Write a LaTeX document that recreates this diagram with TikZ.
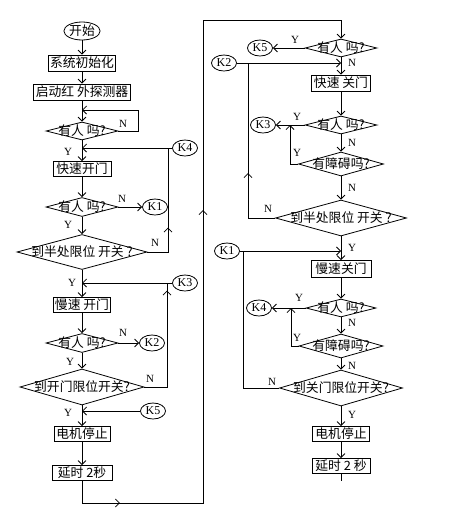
\documentclass[tikz,border=0pt]{standalone}
\usepackage{fontspec}
\setmainfont{Liberation Serif}
\newfontfamily\cjk{Noto Sans CJK SC}
\usetikzlibrary{arrows.meta,shapes.geometric,decorations.markings}
\tikzset{
  fc/line/.style={line width=0.8pt, draw=black},
  fc/arrow/.style={fc/line, -{Straight Barb[length=4pt,width=8pt]}},
  fc/midarrow/.style={
    postaction={decorate, decoration={markings,
      mark=at position #1 with {\arrow{Straight Barb[length=4pt,width=8pt]}}}}
  },
  fc/box/.style={
    draw,
    line width=0.8pt,
    rectangle,
    inner xsep=1pt,
    inner ysep=1pt,
    minimum height=16pt,
    font=\cjk\fontsize{12.8}{14}\selectfont
  },
  fc/term/.style={
    ellipse,
    draw,
    line width=0.8pt,
    inner sep=0pt,
    minimum width=34pt,
    minimum height=18pt,
    font=\cjk\fontsize{12.8}{14}\selectfont
  },
  fc/dectext/.style={font=\cjk\fontsize{12.8}{14}\selectfont, inner sep=0pt},
  fc/dec/.style={
    diamond,
    draw,
    line width=0.8pt,
    inner sep=0pt,
    label={[fc/dectext]center:#1}
  },
  fc/conn/.style={
    ellipse,
    draw,
    line width=0.8pt,
    inner sep=0pt,
    minimum width=25pt,
    minimum height=16pt,
    font=\fontsize{12}{13}\selectfont
  },
  fc/yn/.style={font=\fontsize{11}{12}\selectfont, inner sep=0pt}
}

\begin{document}
\begin{tikzpicture}[x=1pt,y=-1pt]
  \useasboundingbox (0,0) rectangle (454,530);

  % left column: opening the door
  \node[fc/term] (start) at (82,31) {开始};
  \node[fc/box,minimum width=67pt] (init) at (82,63) {系统初始化};
  \node[fc/box,minimum width=97pt] (ir) at (82,92) {启动红 外探测器};
  \node[fc/dec={有人 吗?},minimum width=72pt,minimum height=18pt] (ask1) at (82,131) {};
  \node[fc/box,minimum width=58pt,minimum height=15pt] (fastopen) at (82,169) {快速开门};
  \node[fc/dec={有人 吗?},minimum width=72pt,minimum height=19pt] (ask2) at (82,207) {};
  \node[fc/dec={到半处限位 开关 ?},minimum width=130pt,minimum height=35pt] (half) at (82,252) {};
  \node[fc/box,minimum width=57pt,minimum height=15pt] (slowopen) at (82,305) {慢速 开门};
  \node[fc/dec={有人 吗?},minimum width=72pt,minimum height=19pt] (ask3) at (82,343) {};
  \node[fc/dec={到开门限位开关?},minimum width=124pt,minimum height=36pt] (openlim) at (82,387) {};
  \node[fc/box,minimum width=56pt,minimum height=15pt] (stopl) at (82,434) {电机停止};
  \node[fc/box,minimum width=60pt,minimum height=15pt] (delayl) at (82,473) {延时 2秒};

  \node[fc/conn] (k4l) at (185,148) {K4};
  \node[fc/conn] (k1l) at (155,207) {K1};
  \node[fc/conn] (k3l) at (185,283) {K3};
  \node[fc/conn] (k2l) at (152,343) {K2};
  \node[fc/conn] (k5l) at (153,411) {K5};

  % right column: closing the door
  \node[fc/dec={有人 吗?},minimum width=72pt,minimum height=18pt] (askr1) at (341,48) {};
  \node[fc/box,minimum width=59pt] (fastclose) at (341,83) {快速 关门};
  \node[fc/dec={有人 吗?},minimum width=72pt,minimum height=18pt] (askr2) at (341,125) {};
  \node[fc/dec={有障碍吗?},minimum width=85pt,minimum height=24pt] (obst1) at (341,164) {};
  \node[fc/dec={到半处限位 开关 ?},minimum width=131pt,minimum height=36pt] (halfr) at (341,218) {};
  \node[fc/box,minimum width=60pt,minimum height=17pt] (slowclose) at (341,269) {慢速关门};
  \node[fc/dec={有人 吗?},minimum width=70pt,minimum height=18pt] (askr3) at (341,308) {};
  \node[fc/dec={有障碍吗?},minimum width=84pt,minimum height=24pt] (obst2) at (341,346) {};
  \node[fc/dec={到关门限位开关?},minimum width=123pt,minimum height=36pt] (closelim) at (341,388) {};
  \node[fc/box,minimum width=57pt,minimum height=15pt] (stopr) at (341,434) {电机停止};
  \node[fc/box,minimum width=58pt,minimum height=15pt] (delayr) at (341,466) {延时 2 秒};

  \node[fc/conn] (k5r) at (260,48) {K5};
  \node[fc/conn] (k2r) at (224,63) {K2};
  \node[fc/conn] (k3r) at (263,125) {K3};
  \node[fc/conn] (k1r) at (227,251) {K1};
  \node[fc/conn] (k4r) at (259,308) {K4};

  % Y / N labels
  \node[fc/yn] (nl1) at (123,124) {N};
  \node[fc/yn] (yl1) at (68,152) {Y};
  \node[fc/yn] (nl2) at (122,199) {N};
  \node[fc/yn] (yl2) at (68,225) {Y};
  \node[fc/yn] (nl3) at (155,243) {N};
  \node[fc/yn] (yl3) at (72,283) {Y};
  \node[fc/yn] (nl4) at (123,333) {N};
  \node[fc/yn] (yl4) at (70,362) {Y};
  \node[fc/yn] (nl5) at (150,379) {N};
  \node[fc/yn] (yl5) at (68,413) {Y};
  \node[fc/yn] (yr1) at (295,40) {Y};
  \node[fc/yn] (nr1) at (352,63) {N};
  \node[fc/yn] (yr2) at (297,117) {Y};
  \node[fc/yn] (nr2) at (352,143) {N};
  \node[fc/yn] (yr3) at (297,153) {Y};
  \node[fc/yn] (nr3) at (352,188) {N};
  \node[fc/yn] (nr4) at (268,209) {N};
  \node[fc/yn] (yr4) at (352,248) {Y};
  \node[fc/yn] (yr5) at (299,298) {Y};
  \node[fc/yn] (nr5) at (352,323) {N};
  \node[fc/yn] (yr6) at (297,338) {Y};
  \node[fc/yn] (nr6) at (352,366) {N};
  \node[fc/yn] (nr7) at (272,382) {N};
  \node[fc/yn] (yr7) at (352,415) {Y};

  % bends
  \coordinate (loop1) at (138,110);
  \coordinate (up1) at (168,148);
  \coordinate (up2) at (167,283);
  \coordinate (back1) at (203,503);
  \coordinate (back2) at (203,20);
  \coordinate (jr1) at (290,125);
  \coordinate (jr2) at (248,63);
  \coordinate (jr3) at (291,308);
  \coordinate (jr4) at (243,251);
  \coordinate (tail) at (341,481);

  % left connectors
  \draw[fc/arrow] (start) -- (init);
  \draw[fc/arrow] (init) -- (ir);
  \draw[fc/arrow] (ir) -- (ask1);
  \draw[fc/arrow] (ask1.east) -| (loop1) -- (loop1 -| ir);
  \draw[fc/arrow] (ask1) -- (fastopen);
  \draw[fc/arrow] (k4l) -- (k4l -| ask1);
  \draw[fc/arrow] (fastopen) -- (ask2);
  \draw[fc/arrow] (ask2.east) -- (k1l);
  \draw[fc/arrow] (ask2) -- (half);
  \draw[fc/line,fc/midarrow=45pt] (half.east) -| (up1);
  \draw[fc/arrow] (half) -- (slowopen);
  \draw[fc/arrow] (k3l) -- (k3l -| half);
  \draw[fc/arrow] (slowopen) -- (ask3);
  \draw[fc/arrow] (ask3.east) -- (k2l);
  \draw[fc/arrow] (ask3) -- (openlim);
  \draw[fc/line,fc/midarrow=119pt] (openlim.east) -| (up2);
  \draw[fc/arrow] (openlim) -- (stopl);
  \draw[fc/arrow] (k5l) -- (k5l -| openlim);
  \draw[fc/arrow] (stopl) -- (delayl);
  \draw[fc/arrow,fc/midarrow=60pt,fc/midarrow=436pt] (delayl) |- (back1) -- (back2) -| (askr1);

  % right connectors
  \draw[fc/arrow] (askr1.west) -- (k5r);
  \draw[fc/arrow] (askr1) -- (fastclose);
  \draw[fc/arrow] (k2r) -- (k2r -| askr1);
  \draw[fc/arrow] (fastclose) -- (askr2);
  \draw[fc/arrow] (askr2.west) -- (k3r);
  \draw[fc/arrow] (askr2) -- (obst1);
  \draw[fc/arrow] (obst1.west) -| (jr1);
  \draw[fc/arrow] (obst1) -- (halfr);
  \draw[fc/line,fc/midarrow=72pt] (halfr.west) -| (jr2);
  \draw[fc/arrow] (halfr) -- (slowclose);
  \draw[fc/arrow] (k1r) -- (k1r -| halfr);
  \draw[fc/arrow] (slowclose) -- (askr3);
  \draw[fc/arrow] (askr3.west) -- (k4r);
  \draw[fc/arrow] (askr3) -- (obst2);
  \draw[fc/arrow] (obst2.west) -| (jr3);
  \draw[fc/arrow] (obst2) -- (closelim);
  \draw[fc/line] (closelim.west) -| (jr4);
  \draw[fc/arrow] (closelim) -- (stopr);
  \draw[fc/arrow] (stopr) -- (delayr);
  \draw[fc/line] (delayr) -- (tail);
\end{tikzpicture}
\end{document}
